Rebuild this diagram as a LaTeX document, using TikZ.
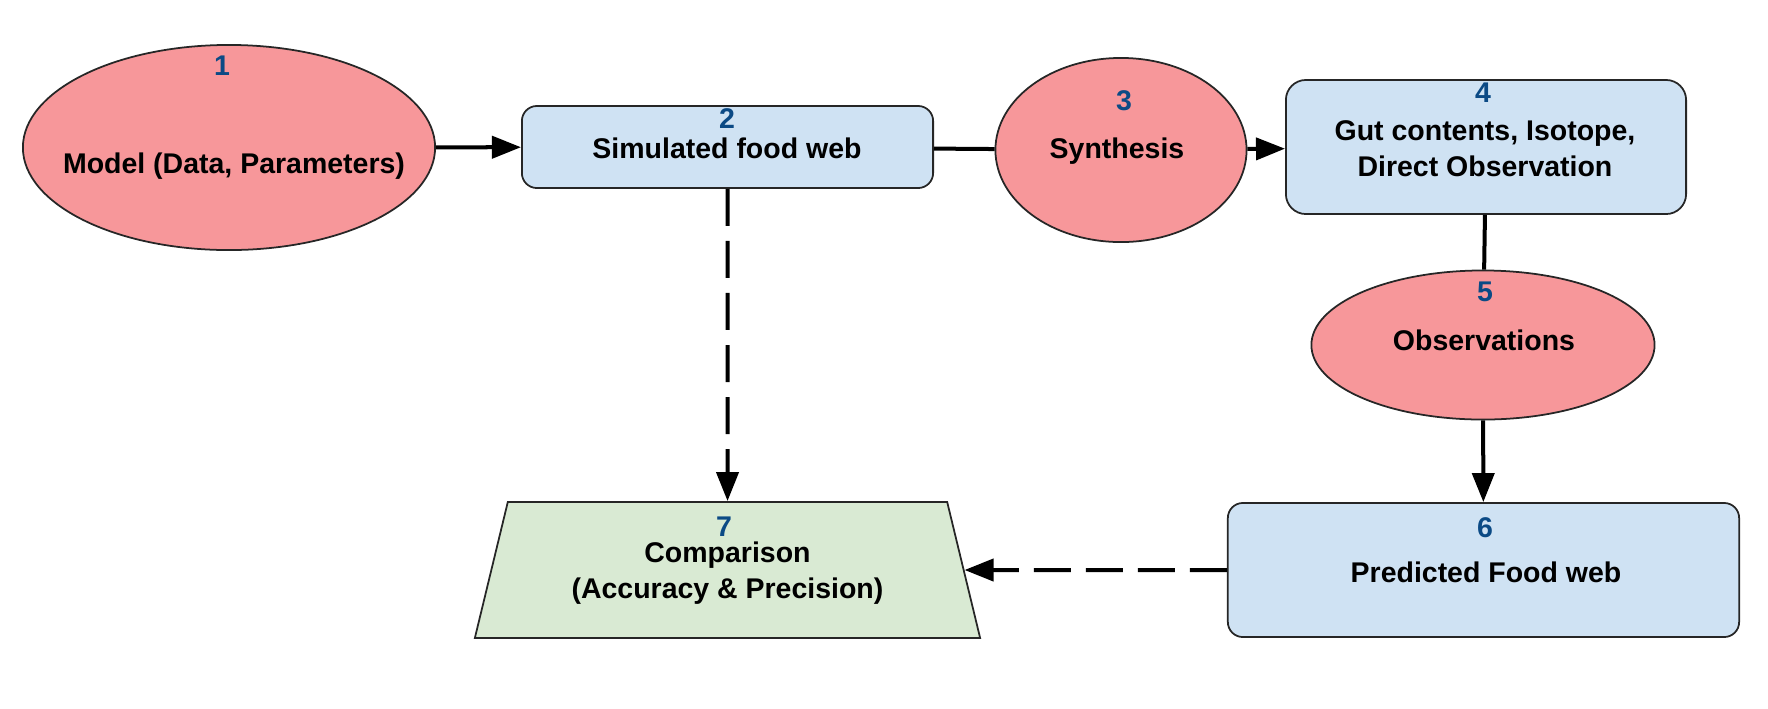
\documentclass[tikz,border=0pt]{standalone}
\usepackage{fontspec}
\setmainfont{Liberation Sans}
\usetikzlibrary{shapes.geometric}
\usetikzlibrary{arrows.meta}

\definecolor{rosefill}{HTML}{F7979A}
\definecolor{bluefill}{HTML}{CFE2F3}
\definecolor{greenfill}{HTML}{D9EAD3}
\definecolor{numblue}{HTML}{0B4A85}

\begin{document}
\begin{tikzpicture}
[x=0.01cm,y=-0.01cm,%
  font=\fontsize{8.1pt}{10.2pt}\selectfont\bfseries,%
  stage/.style={ellipse,draw=black!85,line width=0.5pt,fill=rosefill,inner sep=0pt},%
  web/.style={rectangle,rounded corners=0.15cm,draw=black!85,line width=0.5pt,fill=bluefill,inner sep=0pt},%
  num/.style={anchor=base,text=numblue,inner sep=0pt},%
  txt/.style={anchor=base,align=center,inner sep=0pt},%
  link/.style={line width=0.04cm},%
  flow/.style={link,-{Triangle[length=0.29cm,width=0.22cm]}},%
  cmpflow/.style={flow,dash pattern=on 0.37cm off 0.15cm}]
\useasboundingbox (0,0) rectangle (1768,708);
% shapes
\node[stage,minimum width=4.12cm,minimum height=2.05cm] (model) at (229,147.5) {};
\node[web,minimum width=4.11cm,minimum height=0.82cm] (sim) at (727.5,147) {};
\node[stage,minimum width=2.51cm,minimum height=1.84cm] (syn) at (1121,150) {};
\node[web,rounded corners=0.2cm,minimum width=4.00cm,minimum height=1.34cm] (gut) at (1486,147) {};
\node[stage,minimum width=3.43cm,minimum height=1.49cm] (obs) at (1483,345) {};
\node[web,minimum width=5.11cm,minimum height=1.34cm] (pred) at (1483.5,570) {};
\node[trapezium,trapezium stretches body=true,trapezium angle=67.1,draw=black!85,line width=0.5pt,
  fill=greenfill,align=center,inner sep=0pt,text height=0.675cm,text depth=0.105cm,
  minimum width=5.05cm,minimum height=1.36cm]
  (cmp) at (727.5,570) {Comparison\\(Accuracy \& Precision)};
% texts
\node[num] (n1) at (222,75) {1};
\node[txt] (t1) at (234,173) {Model (Data, Parameters)};
\node[num] (n2) at (727,128) {2};
\node[txt] (t2) at (727,158) {Simulated food web};
\node[num] (n3) at (1124,110) {3};
\node[txt] (t3) at (1117,158) {Synthesis};
\node[num] (n4) at (1483,102) {4};
\node[txt] (t4) at (1485,176) {Gut contents, Isotope,\\Direct Observation};
\node[num] (n5) at (1485,301) {5};
\node[txt] (t5) at (1484,350) {Observations};
\node[num] (n6) at (1485,537) {6};
\node[txt] (t6) at (1486,582) {Predicted Food web};
\node[num] (n7) at (724,536) {7};
% connectors
\draw[flow] (model) -- (sim);
\draw[link] (sim) -- (syn);
\draw[flow] (syn) -- (gut);
\draw[link] (gut) -- (obs);
\draw[flow] (obs) -- (pred);
\draw[cmpflow] (sim) -- (cmp);
\draw[cmpflow] (pred) -- (cmp);
\end{tikzpicture}
\end{document}
